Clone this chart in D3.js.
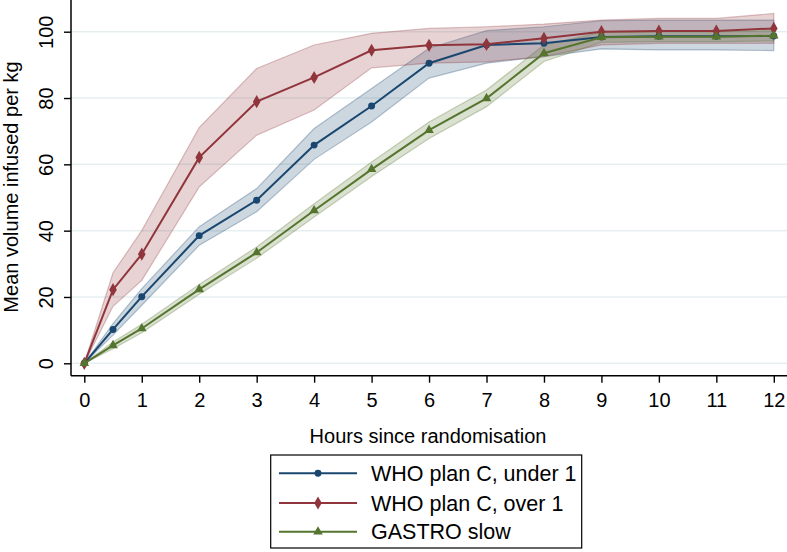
<!DOCTYPE html>
<html>
<head>
<meta charset="utf-8">
<script src="https://cdn.jsdelivr.net/npm/d3@7"></script>
<style>
  body { margin: 0; background: #fff; }
  text { font-family: "Liberation Sans", Arial, sans-serif; }
</style>
</head>
<body>
<div id="content"></div>
<script>
var width = 787;
var height = 552;

// hours since randomisation
var hours = [0, 0.5, 1, 2, 3, 4, 5, 6, 7, 8, 9, 10, 11, 12];

var under1Mean  = [0, 10.2, 20.1, 38.5, 49.2, 65.8, 77.6, 90.5, 96.0, 96.5, 98.4, 98.6, 98.6, 98.7];
var under1Lower = [0, 8.5, 17.5, 35.6, 45.7, 61.5, 72.8, 86.0, 90.5, 92.5, 94.8, 94.5, 94.5, 94.3];
var under1Upper = [0, 12.0, 22.5, 41.2, 52.7, 70.8, 82.9, 95.0, 100.3, 101.5, 103.3, 103.5, 103.5, 103.5];

var over1Mean  = [0, 22.2, 32.9, 62.1, 78.9, 86.2, 94.4, 95.9, 96.2, 98.0, 100.0, 100.2, 100.2, 101.0];
var over1Lower = [0, 17.2, 25.0, 53.2, 68.8, 76.4, 89.1, 90.5, 90.9, 92.5, 96.0, 96.5, 96.5, 96.5];
var over1Upper = [0, 27.3, 40.0, 71.1, 88.9, 96.0, 99.5, 101.0, 101.5, 102.3, 103.5, 104.0, 104.0, 105.5];

var gastroMean  = [0, 5.4, 10.5, 22.3, 33.4, 46.1, 58.5, 70.3, 79.9, 93.5, 98.3, 98.5, 98.5, 98.8];
var gastroLower = [0, 4.4, 9.2, 20.8, 31.7, 44.1, 56.3, 67.8, 77.4, 91.0, 96.8, 97.0, 97.0, 97.2];
var gastroUpper = [0, 6.4, 11.8, 23.8, 35.1, 48.1, 60.7, 72.8, 82.4, 96.0, 99.8, 100.0, 100.0, 100.3];

var xTicks = [0, 1, 2, 3, 4, 5, 6, 7, 8, 9, 10, 11, 12];
var yTicks = [0, 20, 40, 60, 80, 100];

var seriesNames = ["WHO plan C, under 1", "WHO plan C, over 1", "GASTRO slow"];
var seriesColors = ["#1a476f", "#90353b", "#55752f"];

var series = [
    { name: seriesNames[0], color: seriesColors[0], mean: under1Mean, lower: under1Lower, upper: under1Upper, symbol: d3.symbolCircle, size: 38 },
    { name: seriesNames[1], color: seriesColors[1], mean: over1Mean, lower: over1Lower, upper: over1Upper, symbol: d3.symbolDiamond, size: 50 },
    { name: seriesNames[2], color: seriesColors[2], mean: gastroMean, lower: gastroLower, upper: gastroUpper, symbol: d3.symbolTriangle, size: 40 }
];

var axisLeftX = 71;
var axisBottomY = 375.7;

var svg = d3.select("#content").append("svg")
    .attr("width", width)
    .attr("height", height);

var x = d3.scaleLinear().domain([0, 12]).range([84.3, 773.8]);
var y = d3.scaleLinear().domain([0, 100]).range([363.3, 31.7]);

// gridlines
svg.append("g")
    .selectAll("line")
    .data(yTicks)
    .enter()
    .append("line")
    .attr("x1", axisLeftX)
    .attr("x2", width)
    .attr("y1", d => y(d))
    .attr("y2", d => y(d))
    .attr("stroke", "#e6eff0")
    .attr("stroke-width", 1.5);

// confidence bands
var area = d3.area()
    .x((d, i) => x(hours[i]))
    .y0(d => y(d[0]))
    .y1(d => y(d[1]));

series.forEach(function (s) {
    var band = s.lower.map((v, i) => [v, s.upper[i]]);
    svg.append("path")
        .datum(band)
        .attr("d", area)
        .attr("fill", s.color)
        .attr("fill-opacity", 0.22)
        .attr("stroke", s.color)
        .attr("stroke-opacity", 0.3)
        .attr("stroke-width", 1.2);
});

// lines and markers
var line = d3.line()
    .x((d, i) => x(hours[i]))
    .y(d => y(d));

series.forEach(function (s) {
    svg.append("path")
        .datum(s.mean)
        .attr("d", line)
        .attr("fill", "none")
        .attr("stroke", s.color)
        .attr("stroke-width", 2);

    svg.append("g")
        .selectAll("path")
        .data(s.mean)
        .enter()
        .append("path")
        .attr("transform", (d, i) => `translate(${x(hours[i])}, ${y(d)})`)
        .attr("d", d3.symbol().type(s.symbol).size(s.size))
        .attr("fill", s.color);
});

// axes
var xAxis = svg.append("g")
    .attr("transform", `translate(0, ${axisBottomY})`)
    .call(d3.axisBottom(x).tickValues(xTicks).tickSize(7).tickSizeOuter(0).tickPadding(10));
xAxis.select(".domain").remove();
xAxis.selectAll("line").attr("stroke", "#000").attr("stroke-width", 1.4);
xAxis.selectAll("text").style("font-size", "20px").attr("fill", "#000");

var yAxis = svg.append("g")
    .attr("transform", `translate(${axisLeftX}, 0)`)
    .call(d3.axisLeft(y).tickValues(yTicks).tickSize(7).tickSizeOuter(0));
yAxis.select(".domain").remove();
yAxis.selectAll("line").attr("stroke", "#000").attr("stroke-width", 1.4);
yAxis.selectAll("text")
    .style("font-size", "20px")
    .attr("fill", "#000")
    .attr("text-anchor", "middle")
    .attr("transform", "rotate(-90)")
    .attr("x", 0)
    .attr("y", -25)
    .attr("dy", "0.35em");

svg.append("line")
    .attr("x1", axisLeftX).attr("x2", axisLeftX)
    .attr("y1", 0).attr("y2", axisBottomY)
    .attr("stroke", "#000").attr("stroke-width", 1.5);
svg.append("line")
    .attr("x1", axisLeftX).attr("x2", width)
    .attr("y1", axisBottomY).attr("y2", axisBottomY)
    .attr("stroke", "#000").attr("stroke-width", 1.5);

// axis titles
svg.append("text")
    .attr("x", 428)
    .attr("y", 443)
    .attr("text-anchor", "middle")
    .style("font-size", "20px")
    .text("Hours since randomisation");

svg.append("text")
    .attr("transform", "translate(17.5, 187) rotate(-90)")
    .attr("text-anchor", "middle")
    .style("font-size", "20px")
    .text("Mean volume infused per kg");

// legend
var legend = svg.append("g");
legend.append("rect")
    .attr("x", 270.7)
    .attr("y", 455)
    .attr("width", 311)
    .attr("height", 93)
    .attr("fill", "#fff")
    .attr("stroke", "#000")
    .attr("stroke-width", 1.2);

var rowY = [473.3, 503, 531.7];
series.forEach(function (s, i) {
    var g = legend.append("g").attr("transform", `translate(0, ${rowY[i]})`);
    g.append("line")
        .attr("x1", 279).attr("x2", 357)
        .attr("y1", 0).attr("y2", 0)
        .attr("stroke", s.color).attr("stroke-width", 2);
    g.append("path")
        .attr("transform", "translate(318, 0)")
        .attr("d", d3.symbol().type(s.symbol).size(s.size))
        .attr("fill", s.color);
    g.append("text")
        .attr("x", 371)
        .attr("y", 0)
        .attr("dy", "0.35em")
        .style("font-size", "21.5px")
        .text(s.name);
});
</script>
</body>
</html>
